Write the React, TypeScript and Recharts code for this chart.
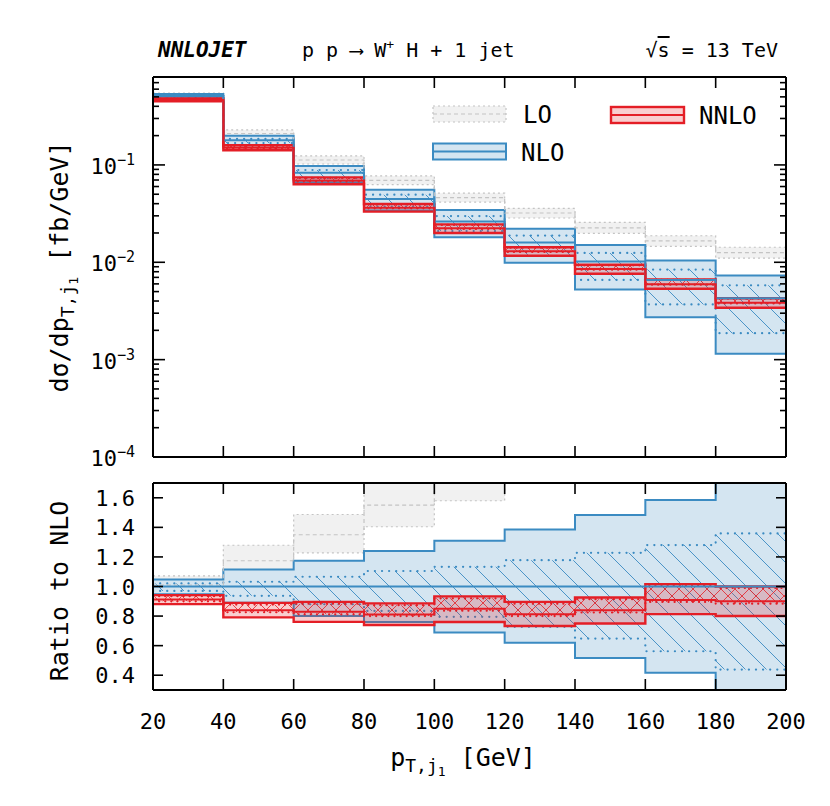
import React from "react";
import { ComposedChart, Area, Line, XAxis, YAxis } from "recharts";

const binEdges = [20, 40, 60, 80, 100, 120, 140, 160, 180, 200];

// NLO central value per bin [fb/GeV]
const nloValue = [0.51, 0.179, 0.0832, 0.0448, 0.0263, 0.01595, 0.01017, 0.00657, 0.00427];

// all of these are ratios to the NLO central value
const nloUp = [1.048, 1.115, 1.174, 1.24, 1.31, 1.386, 1.483, 1.585, 1.71];
const nloDown = [0.948, 0.89, 0.8, 0.76, 0.689, 0.619, 0.517, 0.416, 0.27];
const nloInnerUp = [1.021, 1.032, 1.066, 1.105, 1.133, 1.178, 1.228, 1.28, 1.359];
const nloInnerDown = [0.97, 0.937, 0.88, 0.835, 0.795, 0.727, 0.648, 0.562, 0.438];

const loRatio = [1.01, 1.174, 1.35, 1.55, 1.757, 2.01, 2.22, 2.52, 2.94];
const loUp = [1.072, 1.279, 1.487, 1.72, 1.95, 2.245, 2.53, 2.85, 3.34];
const loDown = [0.95, 1.08, 1.228, 1.404, 1.58, 1.786, 1.95, 2.22, 2.58];

const nnloRatio = [0.912, 0.84, 0.83, 0.81, 0.85, 0.813, 0.84, 0.908, 0.9];
const nnloUp = [0.942, 0.889, 0.896, 0.886, 0.933, 0.896, 0.926, 1.016, 1.0];
const nnloDown = [0.881, 0.791, 0.761, 0.74, 0.76, 0.733, 0.75, 0.813, 0.8];
const nnloInnerUp = [0.934, 0.878, 0.884, 0.874, 0.92, 0.884, 0.914, 1.004, 0.99];
const nnloInnerDown = [0.9, 0.826, 0.812, 0.8, 0.836, 0.8, 0.824, 0.896, 0.884];

const xTicks = [20, 40, 60, 80, 100, 120, 140, 160, 180, 200];
const logMajor = [1e-4, 1e-3, 1e-2, 1e-1];
const logMinorSteps = [1, 2, 3, 4, 5, 6, 7, 8, 9];
const ratioTicks = [0.4, 0.6, 0.8, 1.0, 1.2, 1.4, 1.6];

const logTicks = logMajor.flatMap((m) => logMinorSteps.map((s) => +(m * s).toPrecision(3))).filter((v) => v < 0.79);

const mono = "'DejaVu Sans Mono', monospace";
const BLUE = "#3b8bc2";
const BLUE_FILL = "#d4e5f1";
const RED = "#e41e26";
const GREY = "#c4c4c4";

function buildRows(absolute: boolean) {
  return binEdges.map((x, i) => {
    const j = Math.min(i, nloValue.length - 1);
    const c = absolute ? nloValue[j] : 1;
    return {
      x,
      lo: loRatio[j] * c,
      loBand: [loDown[j] * c, loUp[j] * c],
      nlo: c,
      nloBand: [nloDown[j] * c, nloUp[j] * c],
      nloInner: [nloInnerDown[j] * c, nloInnerUp[j] * c],
      nnlo: nnloRatio[j] * c,
      nnloBand: [nnloDown[j] * c, nnloUp[j] * c],
      nnloInner: [nnloInnerDown[j] * c, nnloInnerUp[j] * c],
    };
  });
}

const topRows = buildRows(true);
const ratioRows = buildRows(false);

function series() {
  const common = { xAxisId: "b", yAxisId: "l", type: "stepAfter" as const, isAnimationActive: false };
  return [
    <Area key="loBand" {...common} dataKey="loBand" fill="#f1f1f1" fillOpacity={1} stroke={GREY} strokeWidth={1.2} strokeDasharray="2 3" activeDot={false} />,
    <Line key="lo" {...common} dataKey="lo" stroke={GREY} strokeWidth={1.2} strokeDasharray="4 3" dot={false} activeDot={false} />,
    <Area key="nloBand" {...common} dataKey="nloBand" fill={BLUE_FILL} fillOpacity={1} stroke={BLUE} strokeWidth={2} activeDot={false} />,
    <Area key="nloInner" {...common} dataKey="nloInner" fill="url(#hatchBlue)" fillOpacity={1} stroke={BLUE} strokeWidth={2.2} strokeDasharray="0.1 7" strokeLinecap="round" activeDot={false} />,
    <Line key="nlo" {...common} dataKey="nlo" stroke={BLUE} strokeWidth={2} dot={false} activeDot={false} />,
    <Area key="nnloBand" {...common} dataKey="nnloBand" fill={RED} fillOpacity={0.22} stroke={RED} strokeWidth={2.4} activeDot={false} />,
    <Area key="nnloInner" {...common} dataKey="nnloInner" fill="url(#hatchRed)" fillOpacity={1} stroke={RED} strokeWidth={2.2} strokeDasharray="0.1 6" strokeLinecap="round" activeDot={false} />,
    <Line key="nnlo" {...common} dataKey="nnlo" stroke={RED} strokeWidth={2} dot={false} activeDot={false} />,
  ];
}

function xTick(side: "top" | "bottom", withLabel: boolean) {
  return (p: any) => {
    const v = p.payload.value;
    const inner = v > 20 && v < 200;
    const y2 = side === "bottom" ? p.y - 11 : p.y + 11;
    return (
      <g>
        {inner && <line x1={p.x} x2={p.x} y1={p.y} y2={y2} stroke="#000" strokeWidth={1.6} />}
        {withLabel && (
          <text x={p.x} y={p.y + 39} textAnchor="middle" fontSize={22} fontFamily={mono} fill="#000">
            {v}
          </text>
        )}
      </g>
    );
  };
}

function logTick(side: "left" | "right") {
  return (p: any) => {
    const v = p.payload.value;
    const lg = Math.log10(v);
    const e = Math.round(lg);
    const major = Math.abs(lg - e) < 1e-6;
    const len = major ? 12 : 6;
    const dir = side === "left" ? 1 : -1;
    return (
      <g>
        <line x1={p.x} x2={p.x + dir * len} y1={p.y} y2={p.y} stroke="#000" strokeWidth={1.6} />
        {side === "left" && major && (
          <text x={p.x - 18} y={p.y + 9} textAnchor="end" fontSize={22} fontFamily={mono} fill="#000">
            10<tspan dy={-9} fontSize={15}>{"\u2212" + -e}</tspan>
          </text>
        )}
      </g>
    );
  };
}

function ratioTick(side: "left" | "right") {
  return (p: any) => {
    const v = p.payload.value;
    const dir = side === "left" ? 1 : -1;
    return (
      <g>
        <line x1={p.x} x2={p.x + dir * 10} y1={p.y} y2={p.y} stroke="#000" strokeWidth={1.6} />
        {side === "left" && (
          <text x={p.x - 18} y={p.y + 8} textAnchor="end" fontSize={22} fontFamily={mono} fill="#000">
            {v.toFixed(1)}
          </text>
        )}
      </g>
    );
  };
}

const axisLine = { stroke: "#000", strokeWidth: 2 };

export default function App() {
  return (
    <div style={{ position: "absolute", left: 0, top: 0, width: 830, height: 806, background: "#fff" }}>
      <div style={{ position: "absolute", left: 0, top: 0 }}>
        <ComposedChart width={830} height={470} data={topRows} margin={{ top: 76, right: 43, bottom: 12, left: 0 }}>
          <XAxis xAxisId="b" dataKey="x" type="number" domain={[20, 200]} ticks={xTicks} interval={0} height={1}
            tickSize={0} tickMargin={0} tickLine={false} axisLine={axisLine} tick={xTick("bottom", false)} />
          <XAxis xAxisId="t" orientation="top" dataKey="x" type="number" domain={[20, 200]} ticks={xTicks} interval={0} height={1}
            tickSize={0} tickMargin={0} tickLine={false} axisLine={axisLine} tick={xTick("top", false)} />
          <YAxis yAxisId="l" scale="log" type="number" domain={[1e-4, 0.8]} allowDataOverflow ticks={logTicks} interval={0} width={153}
            tickSize={0} tickMargin={0} tickLine={false} axisLine={axisLine} tick={logTick("left")} />
          <YAxis yAxisId="r" orientation="right" scale="log" type="number" domain={[1e-4, 0.8]} allowDataOverflow ticks={logTicks} interval={0} width={1}
            tickSize={0} tickMargin={0} tickLine={false} axisLine={axisLine} tick={logTick("right")} />
          {series()}
        </ComposedChart>
      </div>
      <div style={{ position: "absolute", left: 0, top: 470 }}>
        <ComposedChart width={830} height={336} data={ratioRows} margin={{ top: 12, right: 43, bottom: 115, left: 0 }}>
          <XAxis xAxisId="b" dataKey="x" type="number" domain={[20, 200]} ticks={xTicks} interval={0} height={1}
            tickSize={0} tickMargin={0} tickLine={false} axisLine={axisLine} tick={xTick("bottom", true)} />
          <XAxis xAxisId="t" orientation="top" dataKey="x" type="number" domain={[20, 200]} ticks={xTicks} interval={0} height={1}
            tickSize={0} tickMargin={0} tickLine={false} axisLine={axisLine} tick={xTick("top", false)} />
          <YAxis yAxisId="l" type="number" domain={[0.3, 1.7]} allowDataOverflow ticks={ratioTicks} interval={0} width={153}
            tickSize={0} tickMargin={0} tickLine={false} axisLine={axisLine} tick={ratioTick("left")} />
          <YAxis yAxisId="r" orientation="right" type="number" domain={[0.3, 1.7]} allowDataOverflow ticks={ratioTicks} interval={0} width={1}
            tickSize={0} tickMargin={0} tickLine={false} axisLine={axisLine} tick={ratioTick("right")} />
          {series()}
        </ComposedChart>
      </div>
      <svg width={830} height={806} style={{ position: "absolute", left: 0, top: 0, pointerEvents: "none" }} fontFamily={mono}>
        <defs>
          <pattern id="hatchBlue" patternUnits="userSpaceOnUse" width={21} height={21}>
            <path d="M0,0 L21,21 M-3,18 L3,24 M18,-3 L24,3" stroke={BLUE} strokeWidth={0.9} />
          </pattern>
          <pattern id="hatchRed" patternUnits="userSpaceOnUse" width={14} height={14}>
            <path d="M0,0 L14,14 M14,0 L0,14" stroke={RED} strokeWidth={0.8} />
          </pattern>
        </defs>
        <text x={158} y={57} fontSize={21} fontWeight="bold" fontStyle="italic">NNLOJET</text>
        <text x={302} y={57} fontSize={20} style={{ whiteSpace: "pre" }}>
          {"p p \u27F6 W"}
          <tspan dy={-8} fontSize={13}>+</tspan>
          <tspan dy={8}>{" H + 1 jet"}</tspan>
        </text>
        <text x={778} y={57} fontSize={20} textAnchor="end">
          {"\u221A"}
          <tspan style={{ textDecoration: "overline" }}>s</tspan>
          {" = 13 TeV"}
        </text>

        <g>
          <rect x={433} y={106} width={73} height={16} fill="#f1f1f1" stroke={GREY} strokeWidth={1.2} strokeDasharray="2 3" />
          <line x1={433} x2={506} y1={114} y2={114} stroke={GREY} strokeWidth={1.2} strokeDasharray="4 3" />
          <text x={523} y={123} fontSize={24}>LO</text>
          <rect x={433} y={143.5} width={73} height={16} fill={BLUE_FILL} stroke={BLUE} strokeWidth={2} />
          <line x1={433} x2={506} y1={151.5} y2={151.5} stroke={BLUE} strokeWidth={2} />
          <text x={521} y={161} fontSize={24}>NLO</text>
          <rect x={611} y={107} width={73} height={16} fill={RED} fillOpacity={0.22} stroke={RED} strokeWidth={2.4} />
          <line x1={611} x2={684} y1={115} y2={115} stroke={RED} strokeWidth={2} />
          <text x={699} y={124} fontSize={24}>NNLO</text>
        </g>

        <text transform="translate(68,267) rotate(-90)" textAnchor="middle" fontSize={25} style={{ whiteSpace: "pre" }}>
          {"d\u03C3/dp"}
          <tspan dy={6} fontSize={18}>T,j</tspan>
          <tspan dy={4} fontSize={13}>1</tspan>
          <tspan dy={-10} fontSize={25}>{" [fb/GeV]"}</tspan>
        </text>
        <text transform="translate(68,591) rotate(-90)" textAnchor="middle" fontSize={25}>Ratio to NLO</text>
        <text x={463} y={766} textAnchor="middle" fontSize={25} style={{ whiteSpace: "pre" }}>
          p
          <tspan dy={6} fontSize={18}>T,j</tspan>
          <tspan dy={4} fontSize={13}>1</tspan>
          <tspan dy={-10} fontSize={25}>{" [GeV]"}</tspan>
        </text>
      </svg>
    </div>
  );
}
